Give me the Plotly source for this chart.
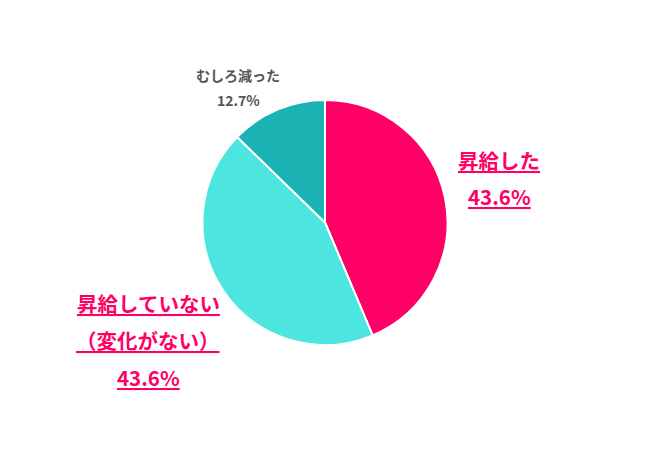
import plotly.graph_objects as go

categories = ["昇給した", "昇給していない（変化がない）", "むしろ減った"]
values = [43.6, 43.6, 12.7]
slice_colors = ["#FF0066", "#4DE5E0", "#1AB2B2"]

FONT = "Noto Sans CJK JP"
W, H = 650, 456
OFF = 8  # page body offset

def fx(x):
    return (x - OFF) / W

def fy(y):
    return 1 - (y - OFF) / H

fig = go.Figure(go.Pie(
    labels=categories,
    values=values,
    sort=False,
    direction="clockwise",
    rotation=0,
    marker=dict(colors=slice_colors, line=dict(color="white", width=2)),
    textinfo="none",
    hoverinfo="label+percent",
    showlegend=False,
    domain=dict(x=[fx(325 - 123), fx(325 + 123)],
                y=[fy(345), fy(100)]),
))

def px_ann(text, x, y, size, color, underline=True):
    t = f"<b>{text}</b>"
    if underline:
        t = f"<u>{t}</u>"
    fig.add_annotation(text=t, x=fx(x), y=fy(y), xref="paper", yref="paper",
                       showarrow=False, xanchor="center", yanchor="middle",
                       font=dict(family=FONT, size=size, color=color))

pink = "#FF0066"
grey = "#555555"

# 昇給した
px_ann(categories[0], 499, 160, 20.5, pink)
px_ann(f"{values[0]}%", 499, 196, 20.5, pink)

# 昇給していない（変化がない）
px_ann(categories[1][:7], 148, 303, 20.5, pink)
px_ann(categories[1][7:], 148, 340, 20.5, pink)
px_ann(f"{values[1]}%", 148, 377, 20.5, pink)

# むしろ減った
px_ann(categories[2], 238, 75, 14, grey, underline=False)
px_ann(f"{values[2]}%", 238, 100, 14, grey, underline=False)

fig.update_layout(
    width=W, height=H,
    margin=dict(l=0, r=0, t=0, b=0),
    paper_bgcolor="white", plot_bgcolor="white",
)

fig.write_html("out.html")
